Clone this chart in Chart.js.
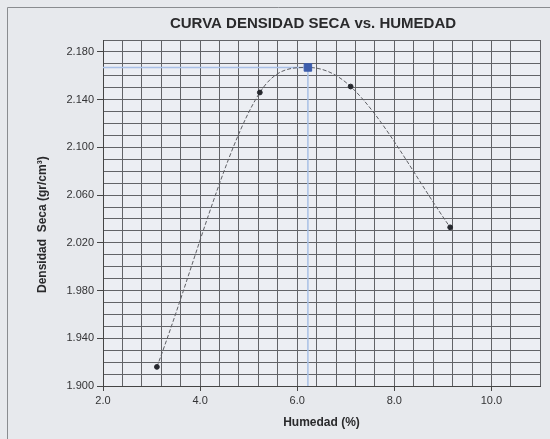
<!DOCTYPE html>
<html>
<head>
<meta charset="utf-8">
<title>Curva densidad seca vs. humedad</title>
<script src="https://cdn.jsdelivr.net/npm/chart.js@4.4.1/dist/chart.umd.min.js"></script>
<style>
  html, body { margin: 0; padding: 0; background: #e7e9ed; }
  #wrap { width: 550px; height: 439px; position: relative; }
</style>
</head>
<body>
<div id="wrap"><canvas id="proctor" width="550" height="439"></canvas></div>
<script>
// Ensayo Proctor - puntos medidos
const humedad = [3.11, 5.23, 7.10, 9.15];        // %
const densidad = [1.916, 2.146, 2.151, 2.033];  // gr/cm3

// Optimo (humedad optima / densidad seca maxima)
const humedadOptima = 6.22;
const densidadMaxima = 2.167;

// Ejes
const X_MIN = 2.0, X_MAX = 11.0, X_STEP = 0.4, X_LABEL_EVERY = 2.0;
const Y_MIN = 1.900, Y_MAX = 2.190, Y_STEP = 0.01, Y_LABEL_EVERY = 0.04;

const FONT = 'Arial, "Liberation Sans", sans-serif';

function isMajor(value, min, every) {
  const r = (value - min) / every;
  return Math.abs(r - Math.round(r)) < 1e-6;
}

// puntos medidos
const puntos = humedad.map((h, i) => ({ x: h, y: densidad[i] }));

// curva ajustada pasando por el optimo
const curva = puntos.concat([{ x: humedadOptima, y: densidadMaxima }])
  .sort((a, b) => a.x - b.x);

// lineas de referencia hacia los ejes
const guias = [
  { x: X_MIN, y: densidadMaxima },
  { x: humedadOptima, y: densidadMaxima },
  { x: humedadOptima, y: Y_MIN }
];

// fondo, marco y titulo
const decor = {
  id: 'decor',
  beforeDraw(chart) {
    const { ctx, chartArea: a } = chart;
    ctx.save();
    ctx.fillStyle = '#e7e9ed';
    ctx.fillRect(0, 0, chart.width, chart.height);
    ctx.fillStyle = '#eceef3';
    ctx.fillRect(a.left, a.top, a.right - a.left, a.bottom - a.top);
    ctx.strokeStyle = '#8a8c90';
    ctx.lineWidth = 1;
    ctx.beginPath();
    ctx.moveTo(7.5, chart.height);
    ctx.lineTo(7.5, 7.5);
    ctx.lineTo(chart.width, 7.5);
    ctx.stroke();
    ctx.restore();
  },
  afterDraw(chart) {
    const { ctx } = chart;
    ctx.save();
    ctx.fillStyle = '#2a2a2c';
    ctx.font = 'bold 15px ' + FONT;
    ctx.textAlign = 'center';
    ctx.textBaseline = 'alphabetic';
    ctx.fillText('CURVA DENSIDAD SECA vs. HUMEDAD', 313, 28);
    ctx.restore();
  }
};

new Chart(document.getElementById('proctor'), {
  type: 'scatter',
  data: {
    datasets: [
      {
        label: 'Optimo',
        data: [{ x: humedadOptima, y: densidadMaxima }],
        pointStyle: 'rect',
        pointRadius: 5.3,
        backgroundColor: '#3d5dac',
        borderColor: '#3d5dac',
        order: 0
      },
      {
        label: 'Puntos',
        data: puntos,
        pointRadius: 2.4,
        backgroundColor: '#26282e',
        borderColor: '#26282e',
        order: 1
      },
      {
        label: 'Curva',
        type: 'line',
        data: curva,
        showLine: true,
        cubicInterpolationMode: 'monotone',
        borderColor: '#5e5f64',
        borderWidth: 1,
        borderDash: [4, 2],
        pointRadius: 0,
        fill: false,
        order: 2
      },
      {
        label: 'Guias',
        type: 'line',
        data: guias,
        showLine: true,
        tension: 0,
        borderColor: '#a9c0e6',
        borderWidth: 1.5,
        pointRadius: 0,
        fill: false,
        order: 3
      }
    ]
  },
  options: {
    responsive: false,
    animation: false,
    layout: { padding: { top: 40, right: 10, bottom: 0, left: 0 } },
    plugins: {
      legend: { display: false },
      tooltip: { enabled: false }
    },
    scales: {
      x: {
        type: 'linear',
        min: X_MIN,
        max: X_MAX,
        afterFit(scale) { scale.height = 53; },
        border: { color: '#454545', width: 1 },
        grid: {
          color: '#626367',
          lineWidth: 1,
          tickLength: 5,
          tickColor: (c) => c.tick && isMajor(c.tick.value, X_MIN, X_LABEL_EVERY) ? '#454545' : 'rgba(0,0,0,0)'
        },
        ticks: {
          stepSize: X_STEP,
          autoSkip: false,
          maxRotation: 0,
          padding: 3,
          color: '#333335',
          font: { family: FONT, size: 11 },
          callback: (v) => isMajor(v, X_MIN, X_LABEL_EVERY) ? v.toFixed(1) : ''
        },
        title: {
          display: true,
          text: 'Humedad (%)',
          color: '#2a2a2c',
          font: { family: FONT, size: 12, weight: 'bold' },
          padding: { top: 0, bottom: 9 }
        }
      },
      y: {
        type: 'linear',
        min: Y_MIN,
        max: Y_MAX,
        afterFit(scale) { scale.width = 103; },
        border: { color: '#454545', width: 1 },
        grid: {
          color: '#626367',
          lineWidth: 1,
          tickLength: 6,
          tickColor: (c) => c.tick && isMajor(c.tick.value, Y_MIN, Y_LABEL_EVERY) ? '#454545' : 'rgba(0,0,0,0)'
        },
        ticks: {
          stepSize: Y_STEP,
          autoSkip: false,
          padding: 3,
          color: '#333335',
          font: { family: FONT, size: 11 },
          callback: (v) => isMajor(v, Y_MIN, Y_LABEL_EVERY) ? v.toFixed(3) : ''
        },
        title: {
          display: true,
          text: 'Densidad  Seca (gr/cm³)       ',
          color: '#2a2a2c',
          font: { family: FONT, size: 12, weight: 'bold' },
          padding: { top: 35, bottom: 0 }
        }
      }
    }
  },
  plugins: [decor]
});
</script>
</body>
</html>
